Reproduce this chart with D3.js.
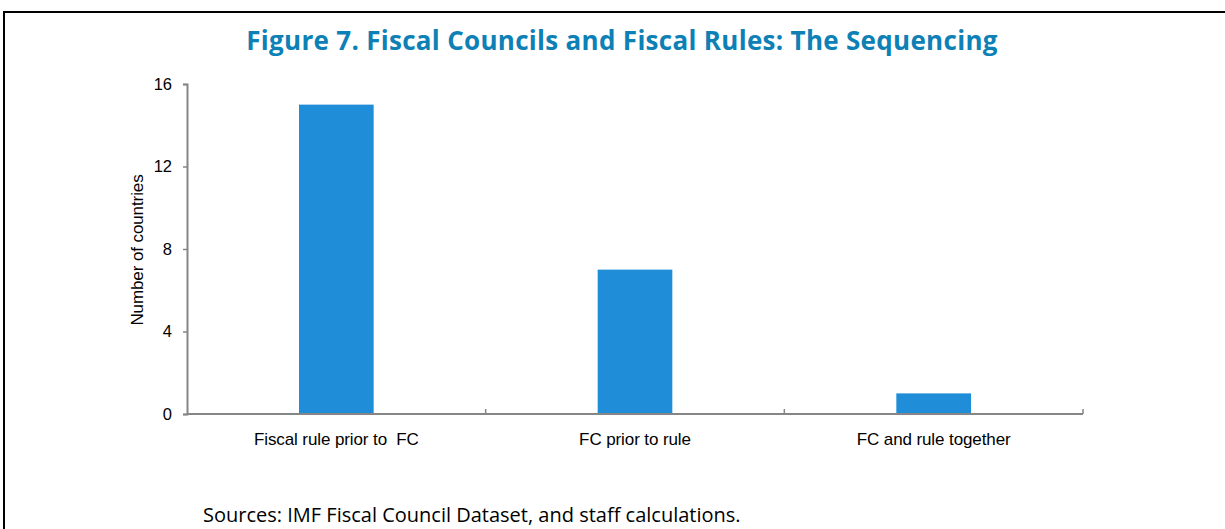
<!DOCTYPE html>
<html><head><meta charset="utf-8">
<script src="https://cdn.jsdelivr.net/npm/d3@7"></script>
<style>body{margin:0;background:#fff}svg{display:block}</style>
</head><body>
<svg id="c" width="1225" height="529"></svg>
<script>
const categories = ["Fiscal rule prior to  FC", "FC prior to rule", "FC and rule together"];
const values = [15, 7, 1];
const yTicks = [0, 4, 8, 12, 16];
const title = "Figure 7. Fiscal Councils and Fiscal Rules: The Sequencing";
const yLabel = "Number of countries";
const source = "Sources: IMF Fiscal Council Dataset, and staff calculations.";

const svg = d3.select("#c");
svg.append("rect").attr("x", 4).attr("y", 12).attr("width", 1240).attr("height", 540)
  .attr("fill", "none").attr("stroke", "#000").attr("stroke-width", 2);

svg.append("text").attr("x", 622).attr("y", 50).attr("text-anchor", "middle")
  .attr("font-family", "'Open Sans', sans-serif").attr("font-weight", 700)
  .attr("font-size", 26).attr("letter-spacing", 0.3).attr("fill", "#0d80b6").text(title);

const x0 = 187, x1 = 1083, y0 = 414, y1 = 84;
const x = d3.scaleBand().domain(categories).range([x0, x1]).paddingInner(0.75).paddingOuter(0.375);
const y = d3.scaleLinear().domain([0, 16]).range([y0, y1]);

svg.append("g").selectAll("rect").data(values).join("rect")
  .attr("x", (d, i) => x(categories[i])).attr("width", x.bandwidth())
  .attr("y", d => y(d)).attr("height", d => y0 - y(d))
  .attr("fill", "#1f8dd7");

const axisColor = "#868686";
// y axis
const ya = svg.append("g").attr("transform", `translate(${x0},0)`)
  .call(d3.axisLeft(y).tickValues(yTicks).tickSize(4).tickPadding(11).tickFormat(d3.format("d")));
ya.select(".domain").attr("stroke", axisColor).attr("stroke-width", 2);
ya.selectAll(".tick line").attr("stroke", axisColor).attr("stroke-width", 1.5);
ya.selectAll("text").attr("font-family", "'Liberation Sans', Arial, sans-serif").attr("font-size", 16.5).attr("fill", "#000");

// x axis
const xb = d3.scaleLinear().domain([0, categories.length]).range([x0, x1]);
svg.append("line").attr("x1", x0).attr("x2", x1).attr("y1", y0).attr("y2", y0)
  .attr("stroke", axisColor).attr("stroke-width", 2);
svg.append("g").selectAll("line").data(d3.range(1, categories.length + 1)).join("line")
  .attr("x1", d => xb(d)).attr("x2", d => xb(d)).attr("y1", y0).attr("y2", y0 - 5)
  .attr("stroke", axisColor).attr("stroke-width", 1.5);
svg.append("g").selectAll("text").data(categories).join("text")
  .attr("x", d => x(d) + x.bandwidth() / 2).attr("y", 445).attr("text-anchor", "middle")
  .attr("font-family", "'Liberation Sans', Arial, sans-serif").attr("font-size", 17)
  .attr("letter-spacing", -0.1).attr("fill", "#000").style("white-space", "pre").text(d => d);

svg.append("text").attr("transform", `translate(143,250) rotate(-90)`).attr("text-anchor", "middle")
  .attr("font-family", "'Liberation Sans', Arial, sans-serif").attr("font-size", 17)
  .attr("letter-spacing", -0.1).attr("fill", "#000").text(yLabel);

svg.append("text").attr("x", 203).attr("y", 522)
  .attr("font-family", "'Open Sans', sans-serif").attr("font-size", 20).attr("fill", "#000").text(source);
</script>
</body></html>
